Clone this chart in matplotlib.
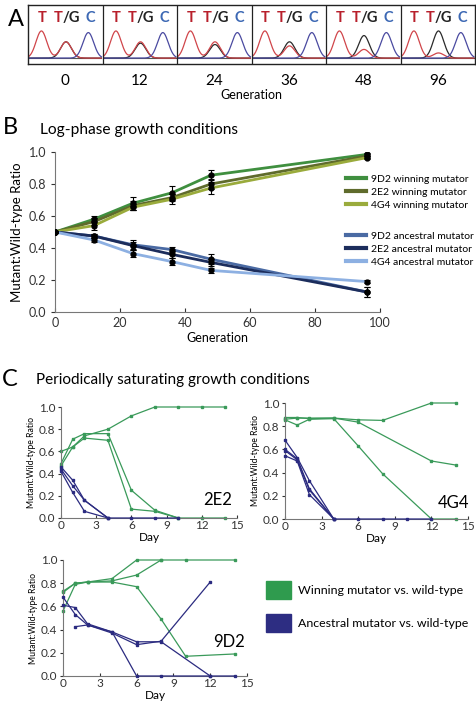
import numpy as np
import matplotlib
matplotlib.use("Agg")
import matplotlib.pyplot as plt
from matplotlib.patches import Patch

plt.rcParams['font.family'] = ['Lato', 'DejaVu Sans']

# ---------------- Panel A data ----------------
gen_labels = ["0", "12", "24", "36", "48", "96"]
t_peak = [1.0, 1.0, 1.0, 1.0, 1.0, 1.0]
mid_red = [0.60, 0.60, 0.60, 0.45, 0.32, 0.19]
mid_black = [0.60, 0.55, 0.50, 0.60, 0.83, 1.0]
c_peak = [0.94, 0.94, 0.94, 0.94, 0.94, 0.94]

# ---------------- Panel B data ----------------
gens = [0, 12, 24, 36, 48, 96]
b_series = {
    "9D2 winning mutator": [0.50, 0.58, 0.68, 0.745, 0.855, 0.985],
    "2E2 winning mutator": [0.50, 0.565, 0.665, 0.715, 0.80, 0.975],
    "4G4 winning mutator": [0.50, 0.54, 0.655, 0.705, 0.775, 0.965],
    "9D2 ancestral mutator": [0.50, 0.475, 0.42, 0.39, 0.33, 0.125],
    "2E2 ancestral mutator": [0.50, 0.475, 0.415, 0.36, 0.31, 0.125],
    "4G4 ancestral mutator": [0.50, 0.45, 0.365, 0.315, 0.26, 0.19],
}
b_err = {
    "9D2 winning mutator": [0, 0.02, 0.04, 0.045, 0.03, 0.01],
    "2E2 winning mutator": [0, 0.02, 0.03, 0.02, 0.03, 0.01],
    "4G4 winning mutator": [0, 0.03, 0.02, 0.03, 0.035, 0.01],
    "9D2 ancestral mutator": [0, 0.01, 0.03, 0.015, 0.03, 0.03],
    "2E2 ancestral mutator": [0, 0.01, 0.02, 0.02, 0.02, 0.03],
    "4G4 ancestral mutator": [0, 0.01, 0.02, 0.02, 0.015, 0.01],
}
b_colors = ["#3f8f3f", "#5f6b2c", "#9aab3c", "#4a6aa3", "#1c2d5c", "#8db0e2"]

# ---------------- Panel C data ----------------
c2e2_green = [
    ([0, 1, 2, 4, 6, 8, 10, 12, 14], [0.60, 0.64, 0.74, 0.80, 0.92, 1.0, 1.0, 1.0, 1.0]),
    ([0, 1, 2, 4, 6, 8, 10], [0.49, 0.71, 0.76, 0.76, 0.25, 0.07, 0.0]),
    ([0, 1, 2, 4, 6, 8, 10, 12, 14], [0.47, 0.64, 0.72, 0.70, 0.08, 0.06, 0.0, 0.0, 0.0]),
]
c2e2_blue = [
    ([0, 1, 2, 4, 6, 8, 10], [0.46, 0.34, 0.16, 0.0, 0.0, 0.0, 0.0]),
    ([0, 1, 2, 4], [0.44, 0.29, 0.16, 0.0]),
    ([0, 1, 2, 4], [0.42, 0.23, 0.06, 0.0]),
]
c4g4_green = [
    ([0, 1, 2, 4, 6, 8, 12, 14], [0.86, 0.87, 0.87, 0.87, 0.855, 0.85, 1.0, 1.0]),
    ([0, 1, 2, 4, 6, 12, 14], [0.875, 0.875, 0.865, 0.87, 0.835, 0.50, 0.465]),
    ([0, 1, 2, 4, 6, 8, 12, 14], [0.855, 0.81, 0.86, 0.865, 0.63, 0.39, 0.0, 0.0]),
]
c4g4_blue = [
    ([0, 1, 2, 4, 6, 8, 10, 12], [0.68, 0.53, 0.33, 0.0, 0.0, 0.0, 0.0, 0.0]),
    ([0, 1, 2, 4], [0.60, 0.52, 0.26, 0.0]),
    ([0, 1, 2, 4], [0.59, 0.51, 0.25, 0.0]),
    ([0, 1, 2, 4], [0.545, 0.50, 0.21, 0.0]),
]
c9d2_green = [
    ([0, 1, 2, 4, 6, 8, 10, 14], [0.72, 0.80, 0.81, 0.84, 1.0, 1.0, 1.0, 1.0]),
    ([0, 1, 2, 4, 6, 8], [0.56, 0.79, 0.81, 0.82, 0.87, 1.0]),
    ([0, 1, 2, 4, 6, 8, 10, 14], [0.73, 0.80, 0.81, 0.81, 0.77, 0.49, 0.17, 0.19]),
]
c9d2_blue = [
    ([0, 1, 2, 4, 6, 8, 12, 14], [0.61, 0.59, 0.45, 0.38, 0.0, 0.0, 0.0, 0.0]),
    ([0, 1, 2, 4, 6, 8, 12], [0.68, 0.53, 0.44, 0.37, 0.27, 0.30, 0.81]),
    ([1, 2, 4, 6, 8, 12], [0.425, 0.44, 0.38, 0.295, 0.295, 0.0]),
]

GREEN = "#3a9a5a"
BLUE = "#2b2b80"
SQ_GREEN = "#2f9b4e"
SQ_BLUE = "#2d2d82"

W, H = 476, 706
fig = plt.figure(figsize=(W / 100, H / 100), dpi=100)


def fr(x0, y0, x1, y1):
    """pixel box (top-left origin) -> figure fraction rect"""
    return [x0 / W, 1 - y1 / H, (x1 - x0) / W, (y1 - y0) / H]


# ---------------- Panel A ----------------
axA = fig.add_axes(fr(28, 5, 475, 64))
axA.set_xlim(0, 6)
axA.set_ylim(0, 1)
sig = 0.072
base = 0.1
amp = 0.46
for i in range(6):
    x = np.linspace(i + 0.015, i + 0.985, 300)
    g = lambda c: np.exp(-0.5 * ((x - (i + c)) / sig) ** 2)
    red = base + amp * (t_peak[i] * g(0.18) + mid_red[i] * g(0.51))
    blk = base + amp * mid_black[i] * g(0.51)
    blu = base + amp * c_peak[i] * g(0.81)
    axA.plot(x, np.full_like(x, base), color="#555555", lw=0.8)
    axA.plot(x, blk, color="#2a2a2a", lw=0.9)
    axA.plot(x, red, color="#d0454a", lw=0.9)
    axA.plot(x, blu, color="#4a4aa0", lw=0.9)
    axA.text(i + 0.19, 0.78, "T", color="#b8202c", fontsize=10.5, fontweight="bold",
             ha="center", va="center")
    axA.text(i + 0.46, 0.78, "T", color="#b8202c", fontsize=10.5, fontweight="bold",
             ha="right", va="center")
    axA.text(i + 0.46, 0.78, "/G", color="#222222", fontsize=10.5, fontweight="bold",
             ha="left", va="center")
    axA.text(i + 0.83, 0.78, "C", color="#3c68b4", fontsize=10.5, fontweight="bold",
             ha="center", va="center")
    if i > 0:
        axA.axvline(i, color="#222222", lw=0.9)
for s in axA.spines.values():
    s.set_linewidth(1.0)
    s.set_color("#222222")
axA.set_yticks([])
axA.set_xticks(np.arange(6) + 0.5)
axA.set_xticklabels(gen_labels, fontsize=11)
axA.tick_params(axis="x", length=0, pad=7)
axA.set_xlabel("Generation", fontsize=9, labelpad=1)
fig.text(8 / W, 1 - 20 / H, "A", fontsize=17, va="center", ha="left")

# ---------------- Panel B ----------------
axB = fig.add_axes(fr(55, 152, 380, 312))
handles = []
for (name, vals), col in zip(b_series.items(), b_colors):
    ln, = axB.plot(gens, vals, color=col, lw=2.0, label=name, zorder=2)
    axB.errorbar(gens, vals, yerr=b_err[name], fmt="o", color="black", ms=3.5,
                 capsize=2, elinewidth=0.8, capthick=0.8, zorder=3)
    handles.append(ln)
axB.set_xlim(0, 100)
axB.set_ylim(0, 1.0)
axB.set_xticks([0, 20, 40, 60, 80, 100])
axB.set_yticks([0.0, 0.2, 0.4, 0.6, 0.8, 1.0])
axB.set_yticklabels(["0.0", "0.2", "0.4", "0.6", "0.8", "1.0"])
axB.tick_params(labelsize=9, colors="#333333")
axB.tick_params(axis="x", direction="in", length=3)
axB.tick_params(axis="y", direction="out", length=3)
for sp in ["top", "right"]:
    axB.spines[sp].set_visible(False)
for sp in ["left", "bottom"]:
    axB.spines[sp].set_color("#777777")
    axB.spines[sp].set_linewidth(0.8)
axB.set_xlabel("Generation", fontsize=9, labelpad=2)
axB.set_ylabel("Mutant:Wild-type Ratio", fontsize=9.5, labelpad=4)
leg_kw = dict(loc="center left", frameon=False, fontsize=7.5, handlelength=1.9,
              handletextpad=0.5, labelspacing=0.35, borderpad=0, borderaxespad=0)
leg1 = fig.legend(handles=handles[:3], bbox_to_anchor=(346 / W, 1 - 192 / H), **leg_kw)
leg2 = fig.legend(handles=handles[3:], bbox_to_anchor=(346 / W, 1 - 249 / H), **leg_kw)
for lg in (leg1, leg2):
    for l in lg.get_lines():
        l.set_linewidth(3)
fig.text(3 / W, 1 - 127 / H, "B", fontsize=17, va="center", ha="left")
fig.text(40 / W, 1 - 130 / H, "Log-phase growth conditions", fontsize=11.2,
         va="center", ha="left")

# ---------------- Panel C ----------------
fig.text(2 / W, 1 - 379 / H, "C", fontsize=17, va="center", ha="left")
fig.text(36 / W, 1 - 380 / H, "Periodically saturating growth conditions",
         fontsize=11, va="center", ha="left")


def small_panel(rect, greens, blues, label, lab_xy):
    ax = fig.add_axes(rect)
    for xs, ys in greens:
        ax.plot(xs, ys, color=GREEN, lw=0.9, marker="s", ms=2.0, zorder=2,
                clip_on=False)
    for xs, ys in blues:
        ax.plot(xs, ys, color=BLUE, lw=0.9, marker="s", ms=2.0, zorder=3,
                clip_on=False)
    ax.set_xlim(0, 15)
    ax.set_ylim(0, 1.0)
    ax.set_xticks([0, 3, 6, 9, 12, 15])
    ax.set_yticks([0.0, 0.2, 0.4, 0.6, 0.8, 1.0])
    ax.set_yticklabels(["0.0", "0.2", "0.4", "0.6", "0.8", "1.0"])
    ax.tick_params(labelsize=8.5, colors="#333333", pad=1.5)
    ax.tick_params(axis="x", direction="in", length=2.5)
    ax.tick_params(axis="y", direction="out", length=2.5)
    for sp in ["top", "right"]:
        ax.spines[sp].set_visible(False)
    for sp in ["left", "bottom"]:
        ax.spines[sp].set_color("#777777")
        ax.spines[sp].set_linewidth(0.8)
    ax.set_xlabel("Day", fontsize=8.5, labelpad=1)
    ax.set_ylabel("Mutant:Wild-type Ratio", fontsize=6.2, labelpad=2)
    ax.text(lab_xy[0], lab_xy[1], label, fontsize=12, ha="center", va="center",
            transform=ax.transAxes)
    return ax


small_panel(fr(61, 407, 237, 518), c2e2_green, c2e2_blue, "2E2", (0.89, 0.16))
small_panel(fr(285, 403, 468, 519), c4g4_green, c4g4_blue, "4G4", (0.92, 0.14))
small_panel(fr(63, 560, 247, 676), c9d2_green, c9d2_blue, "9D2", (0.90, 0.29))

fig.legend(handles=[Patch(facecolor=SQ_GREEN, edgecolor=SQ_GREEN),
                    Patch(facecolor=SQ_BLUE, edgecolor=SQ_BLUE)],
           labels=["Winning mutator vs. wild-type", "Ancestral mutator vs. wild-type"],
           loc="upper left", bbox_to_anchor=(266 / W, 1 - 581 / H), frameon=False,
           fontsize=8.9, handlelength=2.0, handleheight=1.9, handletextpad=0.55,
           labelspacing=1.15, borderpad=0, borderaxespad=0)

fig.savefig("out.png", dpi=100)
